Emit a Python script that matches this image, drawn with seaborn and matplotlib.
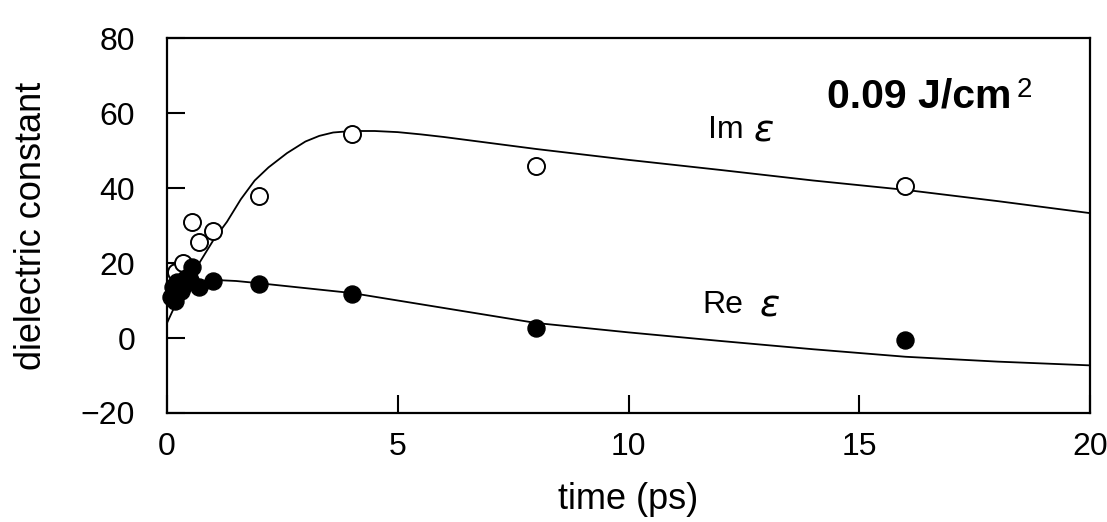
import numpy as np
import pandas as pd
import matplotlib
matplotlib.use("Agg")
import matplotlib.pyplot as plt
import seaborn as sns

# ---- data ----
im_t = [0.2, 0.35, 0.54, 0.69, 1.0, 2.0, 4.0, 8.0, 16.0]
im_eps = [17.5, 20.0, 31.0, 25.5, 28.5, 38.0, 54.5, 46.0, 40.5]

re_t = [0.08, 0.12, 0.18, 0.22, 0.3, 0.35, 0.42, 0.5, 0.55, 0.7, 1.0, 2.0, 4.0, 8.0, 16.0]
re_eps = [11.0, 13.5, 10.0, 15.0, 12.5, 14.0, 16.0, 15.5, 19.0, 13.5, 15.2, 14.5, 11.8, 2.7, -0.5]

im_fit_t = [0, 0.3, 0.7, 1.0, 1.3, 1.6, 1.9, 2.2, 2.6, 3.0, 3.3, 3.6, 4.0, 4.5, 5.0, 5.5, 6, 8, 10, 12, 14, 16, 18, 20]
im_fit = [4, 12, 20, 26, 31, 37, 42, 45.5, 49.3, 52.4, 53.9, 54.8, 55.2, 55.2, 54.9, 54.3, 53.6, 50.4, 47.5, 44.8, 42, 39.5, 36.5, 33.3]

re_fit_t = [0, 0.3, 0.6, 1.0, 1.5, 2, 3, 4, 5, 6, 7, 8, 10, 12, 14, 16, 18, 20]
re_fit = [9, 12, 14.3, 15.5, 15.2, 14.6, 13.3, 12, 10, 8, 6, 4, 1.5, -0.8, -3, -5, -6.3, -7.3]

x_ticks = [0, 5, 10, 15, 20]
y_ticks = [-20, 0, 20, 40, 60, 80]
y_ticklabels = ["\u221220", "0", "20", "40", "60", "80"]

sns.set_style("ticks")
plt.rcParams["font.family"] = ["Liberation Sans", "DejaVu Sans"]
plt.rcParams["mathtext.default"] = "regular"
plt.rcParams["text.color"] = "black"
plt.rcParams["axes.labelcolor"] = "black"

fig = plt.figure(figsize=(11.07, 5.22), dpi=100)
ax = fig.add_axes([167 / 1107, 1 - 413 / 522, (1090 - 167) / 1107, (413 - 38) / 522])

sns.lineplot(x=im_fit_t, y=im_fit, ax=ax, color="black", linewidth=1.3, estimator=None, sort=False)
sns.lineplot(x=re_fit_t, y=re_fit, ax=ax, color="black", linewidth=1.3, estimator=None, sort=False)

sns.scatterplot(x=im_t, y=im_eps, ax=ax, marker="o", s=150, facecolor="white",
                edgecolor="black", linewidth=1.4, zorder=3, clip_on=False)
sns.scatterplot(x=re_t, y=re_eps, ax=ax, marker="o", s=150, color="black",
                edgecolor="black", linewidth=1.0, zorder=4, clip_on=False)

ax.set_xlim(0, 20)
ax.set_ylim(-20, 80)
ax.set_xticks(x_ticks)
ax.set_yticks(y_ticks)
ax.set_yticklabels(y_ticklabels)
ax.tick_params(axis="both", direction="in", length=13, width=1.5, labelsize=23,
               colors="black", labelcolor="black")
ax.tick_params(axis="y", pad=23)
ax.tick_params(axis="x", pad=14)
for sp in ax.spines.values():
    sp.set_visible(True)
    sp.set_linewidth(1.6)
    sp.set_color("black")

ax.set_xlabel("time (ps)", fontsize=26, labelpad=14, color="black")
ax.set_ylabel("dielectric constant", fontsize=26, labelpad=23, color="black")

ax.text(14.3, 64.3, "0.09 J/cm", fontsize=29.5, fontweight="bold", va="center", ha="left", color="black")
ax.text(18.42, 66.2, "2", fontsize=20, va="center", ha="left", color="black")
ax.text(11.72, 55.5, "Im", fontsize=23, va="center", ha="left", color="black")
ax.text(12.72, 55.0, "\u03b5", fontsize=27, fontstyle="italic", va="center", ha="left",
        family=["DejaVu Sans"], color="black")
ax.text(11.6, 8.8, "Re", fontsize=23, va="center", ha="left", color="black")
ax.text(12.85, 8.3, "\u03b5", fontsize=27, fontstyle="italic", va="center", ha="left",
        family=["DejaVu Sans"], color="black")

fig.savefig("out.png", dpi=100, facecolor="white")
